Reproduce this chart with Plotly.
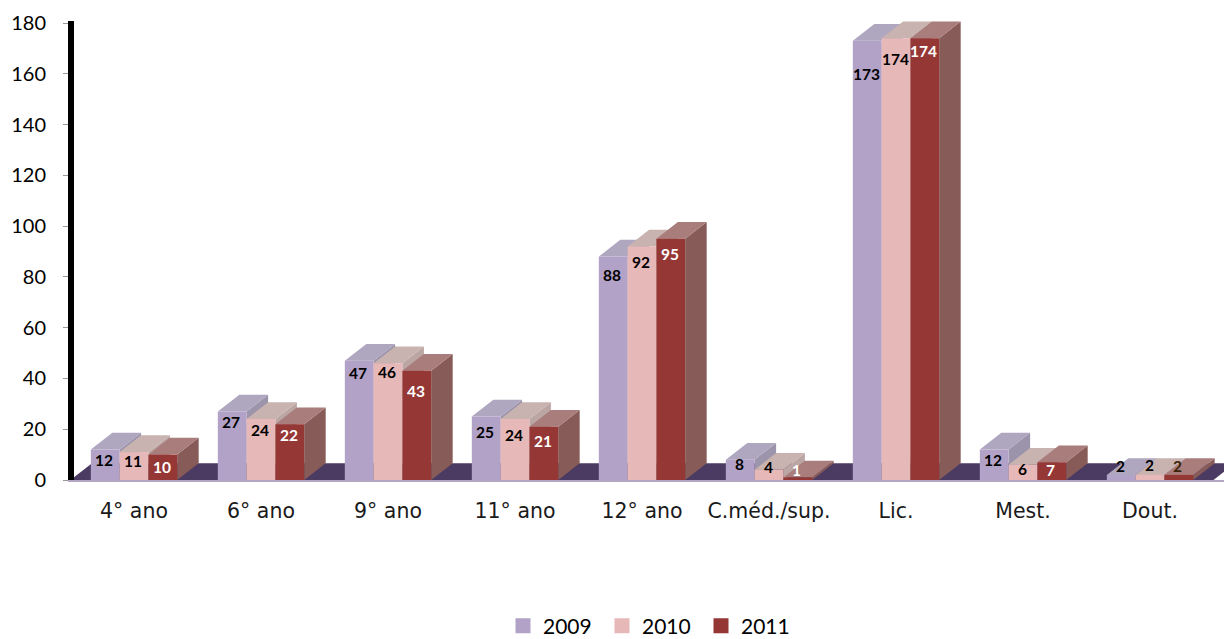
import plotly.graph_objects as go

categories = ["4° ano", "6° ano", "9° ano", "11° ano", "12° ano", "C.méd./sup.", "Lic.", "Mest.", "Dout."]
years = ["2009", "2010", "2011"]
v2009 = [12, 27, 47, 25, 88, 8, 173, 12, 2]
v2010 = [11, 24, 46, 24, 92, 4, 174, 6, 2]
v2011 = [10, 22, 43, 21, 95, 1, 174, 7, 2]
y_ticks = [0, 20, 40, 60, 80, 100, 120, 140, 160, 180]

# Style: pixel drop of each value label below its bar top
drop2009 = [10, 11, 12, 15, 18, 4, 33, 10, -9]
drop2010 = [9, 11, 9, 16, 16, -3, 21, 4, -10]
drop2011 = [12, 11, 20, 14, 15, -7, 13, 8, -9]
label_colors_2011 = ["white"] * 8 + ["#3a2408"]

front = ["#b3a2c7", "#e6b9b8", "#953735"]
top = ["#afa6bf", "#c9b3b0", "#a87d7b"]
side = ["#9b94aa", "#bba6a3", "#875b58"]
floor_color = "#4b3a62"

series = [v2009, v2010, v2011]
drops = [drop2009, drop2010, drop2011]

W, H = 1224, 639
L, T, BOTTOM_Y = 74, 21.3, 480.5
PX_CAT = 127.0
X0 = -0.5 + 3.5 / PX_CAT
X1 = X0 + (W - L) / PX_CAT
YMAX = 180.8
w = 0.68 / 3
dx = 21.5 / PX_CAT
dy = 6.6

fig = go.Figure()

# floor (behind everything)
fig.add_trace(go.Scatter(
    x=[-0.5, -0.5 + dx, 8.5 + dx, 8.5, -0.5],
    y=[0, dy, dy, 0, 0],
    mode="lines", fill="toself", fillcolor=floor_color, line=dict(width=0),
    showlegend=False, hoverinfo="skip"))

# depth faces, one series after the other
for s, vals in enumerate(series):
    tx, ty, sx, sy = [], [], [], []
    for i, v in enumerate(vals):
        xl = i + (s - 1) * w - w / 2
        xr = xl + w
        tx += [xl, xl + dx, xr + dx, xr, xl, None]
        ty += [v, v + dy, v + dy, v, v, None]
        sx += [xr, xr + dx, xr + dx, xr, xr, None]
        sy += [0, dy, v + dy, v, 0, None]
    fig.add_trace(go.Scatter(x=sx, y=sy, mode="lines", fill="toself", fillcolor=side[s],
                             line=dict(width=0), showlegend=False, hoverinfo="skip"))
    fig.add_trace(go.Scatter(x=tx, y=ty, mode="lines", fill="toself", fillcolor=top[s],
                             line=dict(width=0), showlegend=False, hoverinfo="skip"))

# front faces, on an overlaying subplot so they cover neighbouring depth faces
for s, vals in enumerate(series):
    fig.add_trace(go.Bar(x=list(range(len(categories))), y=vals, name=years[s],
                         marker=dict(color=front[s], line=dict(width=0)),
                         xaxis="x2", yaxis="y2", showlegend=False))

# legend keys with the reference's larger square swatch
for s, year in enumerate(years):
    fig.add_trace(go.Scatter(x=[None], y=[None], name=year, mode="markers",
                             marker=dict(symbol="square", size=15, color=front[s]),
                             xaxis="x2", yaxis="y2"))

annotations = []
for s, vals in enumerate(series):
    for i, v in enumerate(vals):
        color = label_colors_2011[i] if s == 2 else "black"
        annotations.append(dict(
            x=i + (s - 1) * w, y=v, xref="x2", yref="y2", text=str(v), showarrow=False,
            xshift=-1, yshift=-drops[s][i],
            font=dict(family="Lato", size=15.5, color=color, weight="bold")))

fig.update_layout(
    width=W, height=H,
    margin=dict(l=L, r=0, t=T, b=H - BOTTOM_Y, pad=0, autoexpand=False),
    paper_bgcolor="white", plot_bgcolor="white",
    barmode="group", bargap=0.32, bargroupgap=0,
    font=dict(family="Lato", color="black"),
    xaxis=dict(range=[X0, X1], tickmode="array",
               tickvals=list(range(len(categories))),
               ticktext=categories, showgrid=False, zeroline=False, ticks="",
               showline=True, linecolor="#b3a7c4", linewidth=2, automargin=False,
               ticklabelstandoff=11,
               tickfont=dict(family="DejaVu Sans", size=20.5, color="#1a1a1a")),
    yaxis=dict(range=[0, YMAX], tickmode="array", tickvals=y_ticks,
               showgrid=False, automargin=False,
               zeroline=False, showline=True, linecolor="black", linewidth=6,
               ticks="outside", ticklen=5, tickwidth=1, tickcolor="#999999",
               ticklabelstandoff=13, tickfont=dict(family="Lato", size=20, color="black")),
    xaxis2=dict(range=[X0, X1], overlaying="x", visible=False),
    yaxis2=dict(range=[0, YMAX], overlaying="y", visible=False),
    legend=dict(orientation="h", xref="container", yref="container",
                x=503 / W, xanchor="left",
                y=1 - 626 / H, yanchor="middle", entrywidth=54, entrywidthmode="pixels",
                font=dict(family="Lato", size=21, color="black"), itemwidth=30,
                traceorder="normal", bgcolor="rgba(0,0,0,0)"),
    annotations=annotations,
)

fig.write_html("out.html", post_script="document.body.style.margin='0';",
               config={"displayModeBar": False})
